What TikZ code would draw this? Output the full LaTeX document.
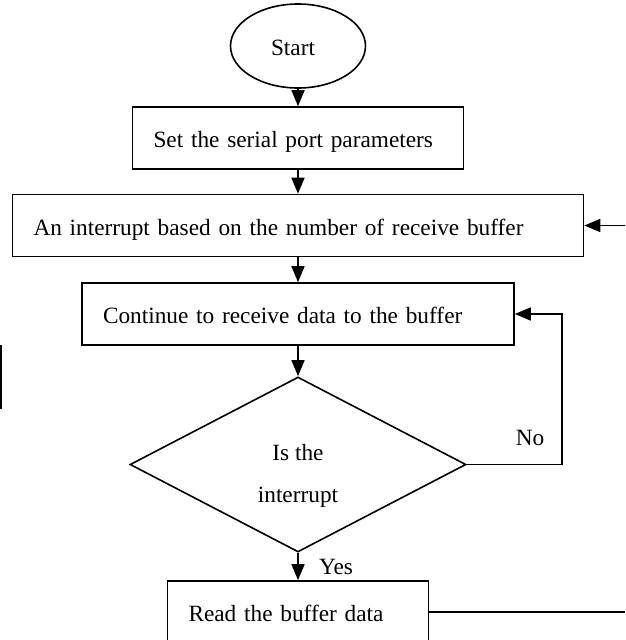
\documentclass[tikz,border=0pt]{standalone}
\usepackage{fontspec}
\setmainfont{Liberation Serif}
\usetikzlibrary{shapes.geometric,arrows.meta}
\begin{document}
\begin{tikzpicture}[x=1pt, y=-1pt, line width=1.6pt,
  every node/.style={font=\fontsize{23.3}{28}\selectfont},
  box/.style={draw, rectangle, inner xsep=21pt, inner ysep=0pt,
    minimum height=62pt, text height=19pt, text depth=0pt, align=left},
  terminal/.style={draw, ellipse, inner sep=0pt, minimum width=135pt,
    minimum height=84pt, text height=19pt, text depth=0pt},
  decision/.style={draw, diamond, inner sep=0pt, minimum width=336pt,
    minimum height=175pt},
  plain/.style={inner sep=0pt, anchor=base},
  flow/.style={-{Triangle[length=16pt,width=13pt]}}]
\useasboundingbox (0,0) rectangle (625,640);
\clip (0,0) rectangle (625,640);

% steps of the flow
\node[terminal] (start) at (298,46) {\hspace*{-10pt}Start};
\node[box, text width=289pt] (setp) at (298,138) {Set the serial port parameters};
\node[box, text width=529pt] (intr) at (298,225.5) {An interrupt based on the number of receive buffer};
\node[box, text width=390pt] (recv) at (298,314) {Continue to receive data to the buffer};
\node[decision] (chk) at (298,464.5) {};
\node[plain] (q1) at (298,460) {Is the};
\node[plain] (q2) at (298,502) {interrupt};
\node[box, text width=219pt] (read) at (298,612) {Read the buffer data};

% branch labels
\node[plain] (no) at (530,445) {No};
\node[plain] (yes) at (336,574) {Yes};

% free ends of the return paths
\coordinate (nofar) at (562,464.5);
\coordinate (backin) at (625,225.5);
\coordinate (backout) at (625,612);
\coordinate (lefttop) at (1,345);
\coordinate (leftbot) at (1,409);

% connectors
\draw[flow] (start.south) -- (setp.north);
\draw[flow] (setp.south) -- (intr.north);
\draw[flow] (intr.south) -- (recv.north);
\draw[flow] (recv.south) -- (chk.north);
\draw[flow] (chk.south) -- (read.north);
\draw[flow] (chk.east) -- (nofar) |- (recv.east);
\draw[flow] (backin) -- (intr.east);
\draw (read.east) -- (backout);
\draw (lefttop) -- (leftbot);
\end{tikzpicture}
\end{document}
